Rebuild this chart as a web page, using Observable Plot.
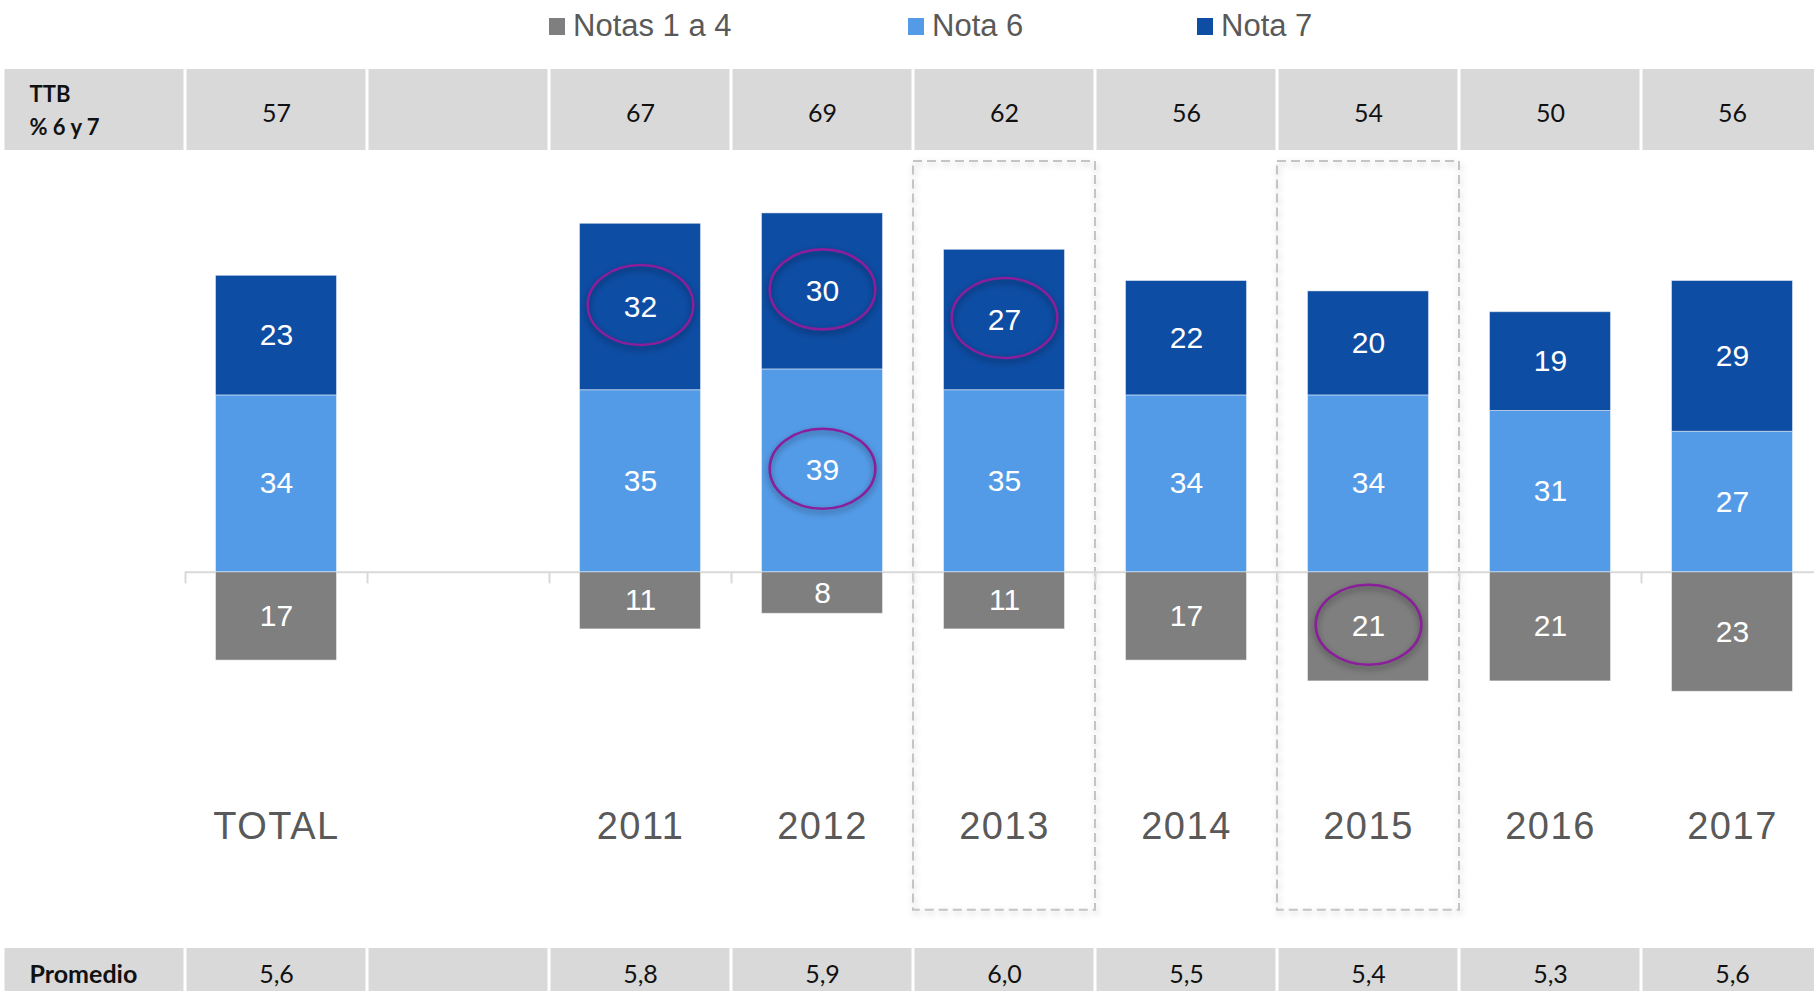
<!DOCTYPE html>
<html><head><meta charset="utf-8">
<script src="https://cdn.jsdelivr.net/npm/d3@7"></script>
<script src="https://cdn.jsdelivr.net/npm/@observablehq/plot@0.6"></script>
<style>
html,body{margin:0;padding:0;background:#fff;overflow:hidden;width:1814px;height:991px}
#legend{position:relative;height:69px;font-family:"Liberation Sans",Arial,sans-serif;font-size:31px;color:#595959}
.item{position:absolute;top:0;height:50px;display:flex;align-items:center;line-height:1;white-space:nowrap}
.sw{width:16px;height:17px;margin-top:3px;margin-right:8px}
svg{display:block;max-width:none !important}
#main g[aria-label="x-axis tick label"] text{letter-spacing:1.5px}
#main g[aria-label="dot"] path{filter:drop-shadow(0px 3px 3px rgba(0,0,0,0.45))}
</style>
</head><body>
<div id="legend"></div>
<div id="top"></div>
<div id="main"></div>
<div id="bottom"></div>
<script>
// ---- data ----
const categories = ["TOTAL", "2011", "2012", "2013", "2014", "2015", "2016", "2017"];
const slots = ["lbl", "TOTAL", "sep", "2011", "2012", "2013", "2014", "2015", "2016", "2017"];
const series = ["Notas 1 a 4", "Nota 6", "Nota 7"];
const notas14 = [17, 11, 8, 11, 17, 21, 21, 23];
const nota6   = [34, 35, 39, 35, 34, 34, 31, 27];
const nota7   = [23, 32, 30, 27, 22, 20, 19, 29];
const ttb      = ["57", "67", "69", "62", "56", "54", "50", "56"];
const promedio = ["5,6", "5,8", "5,9", "6,0", "5,5", "5,4", "5,3", "5,6"];
const ttbTitle = "TTB\n% 6 y 7";
const promTitle = "Promedio";
const highlighted = [["2011", "Nota 7"], ["2012", "Nota 7"], ["2012", "Nota 6"], ["2013", "Nota 7"], ["2015", "Notas 1 a 4"]];
const boxedYears = ["2013", "2015"];

const colors = ["#7f7f7f", "#549be7", "#0e4da4"];

const rows = categories.flatMap((c, i) => [
  {cat: c, serie: series[0], value: -notas14[i], label: notas14[i]},
  {cat: c, serie: series[1], value: nota6[i], label: nota6[i]},
  {cat: c, serie: series[2], value: nota7[i], label: nota7[i]}
]);
const isHi = d => highlighted.some(([c, s]) => c === d.cat && s === d.serie);

// ---- legend ----
const legendPos = [549, 908, 1197];
const legend = document.getElementById("legend");
series.forEach((s, i) => {
  const it = document.createElement("div");
  it.className = "item";
  it.style.left = legendPos[i] + "px";
  it.innerHTML = `<span class="sw" style="background:${colors[i]}"></span><span>${s}</span>`;
  legend.appendChild(it);
});

const common = {width: 1823, marginLeft: 3, marginRight: 0, marginTop: 0};
const xScale = {domain: slots, padding: 0, axis: null, label: null};
const tableFont = "Lato, 'Open Sans', sans-serif";
const baseStyle = {background: "white", overflow: "visible", maxWidth: "none"};

// ---- top table ----
const topVals = slots.map(s => ({slot: s, text: categories.includes(s) ? ttb[categories.indexOf(s)] : ""}));
document.getElementById("top").appendChild(Plot.plot({
  ...common, height: 81, marginBottom: 0,
  x: xScale,
  style: baseStyle,
  marks: [
    Plot.cell(slots, {x: d => d, fill: "#d9d9d9", insetLeft: 1.5, insetRight: 1.5}),
    Plot.text(topVals, {x: "slot", text: "text", fontSize: 25, fill: "#111", fontFamily: tableFont, dy: 4}),
    Plot.text([{slot: "lbl", text: ttbTitle}], {x: "slot", text: "text", textAnchor: "start", dx: -65, dy: -2,
      fontWeight: "bold", fontSize: 22, lineHeight: 1.52, fill: "#111", fontFamily: tableFont})
  ]
}));

// ---- ellipse symbol ----
const ellipse = {
  draw(context, size) {
    const ry = Math.sqrt(size / Math.PI), rx = ry * 1.32, k = 0.5522848;
    context.moveTo(rx, 0);
    context.bezierCurveTo(rx, ry * k, rx * k, ry, 0, ry);
    context.bezierCurveTo(-rx * k, ry, -rx, ry * k, -rx, 0);
    context.bezierCurveTo(-rx, -ry * k, -rx * k, -ry, 0, -ry);
    context.bezierCurveTo(rx * k, -ry, rx, -ry * k, rx, 0);
    context.closePath();
  }
};

// ---- main chart ----
const labelFont = "'Liberation Sans', Arial, sans-serif";
const main = Plot.plot({
  ...common, height: 798, marginBottom: 238,
  x: xScale,
  y: {domain: [-26.6, 81.1], axis: null},
  color: {domain: series, range: colors},
  style: {...baseStyle, fontFamily: labelFont},
  marks: [
    Plot.barY(boxedYears, {x: d => d, y1: -65, y2: 79, fill: "none", stroke: "#c4c4c4", strokeWidth: 2, strokeDasharray: "9 5"}),
    Plot.tickY(slots.slice(1), {x: d => d, y: 0, stroke: "#d9d9d9", strokeWidth: 2}),
    Plot.ruleX(slots.slice(1), {x: d => d, y1: 0, y2: -2.25, dx: -91, stroke: "#d9d9d9", strokeWidth: 2}),
    Plot.barY(rows, Plot.stackY({x: "cat", y: "value", z: "serie", fill: "serie", insetLeft: 30.5, insetRight: 30.5,
      stroke: "#ffffff", strokeOpacity: 0.45, strokeWidth: 1})),
    Plot.text(rows, Plot.stackY({x: "cat", y: "value", z: "serie", text: "label", fill: "white", fontSize: 30, fontFamily: labelFont})),
    Plot.dot(rows, Plot.filter(isHi, Plot.stackY({x: "cat", y: "value", z: "serie", r: 40, symbol: ellipse,
      stroke: "#8b1e9b", strokeWidth: 2.6, fill: "none", dy: -2}))),
    Plot.axisX({anchor: "bottom", tickSize: 0, tickPadding: 102, fontSize: 38, color: "#595959", fontFamily: labelFont,
      label: null, tickFormat: d => (d === "lbl" || d === "sep") ? "" : d})
  ]
});
const barGroups = main.querySelectorAll('g[aria-label="bar"]');
if (barGroups.length) barGroups[0].style.filter = "drop-shadow(1px 3px 3px rgba(0,0,0,0.22))";
document.getElementById("main").appendChild(main);

// ---- bottom table ----
const botVals = slots.map(s => ({slot: s, text: categories.includes(s) ? promedio[categories.indexOf(s)] : ""}));
document.getElementById("bottom").appendChild(Plot.plot({
  ...common, height: 52, marginBottom: 0,
  x: xScale,
  style: baseStyle,
  marks: [
    Plot.cell(slots, {x: d => d, fill: "#d9d9d9", insetLeft: 1.5, insetRight: 1.5}),
    Plot.text(botVals, {x: "slot", text: "text", fontSize: 25, fill: "#111", fontFamily: tableFont}),
    Plot.text([{slot: "lbl", text: promTitle}], {x: "slot", text: "text", textAnchor: "start", dx: -65,
      fontWeight: "bold", fontSize: 25, fill: "#111", fontFamily: tableFont})
  ]
}));
</script>
</body></html>
